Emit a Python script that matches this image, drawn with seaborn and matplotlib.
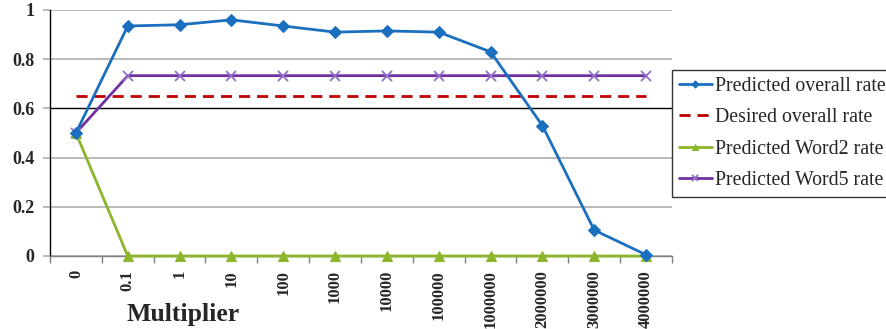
import numpy as np
import pandas as pd
import matplotlib
matplotlib.use("Agg")
import matplotlib.pyplot as plt
import seaborn as sns
from matplotlib.ticker import FixedLocator, FuncFormatter

# 데이터
multipliers = ["0", "0.1", "1", "10", "100", "1000", "10000", "100000",
               "1000000", "2000000", "3000000", "4000000"]
pred_overall = [0.50, 0.935, 0.94, 0.96, 0.935, 0.91, 0.915, 0.91, 0.83, 0.53, 0.105, 0.005]
desired_overall = [0.65] * 12
pred_word2 = [0.50, 0, 0, 0, 0, 0, 0, 0, 0, 0, 0, 0]
pred_word5 = [0.50, 0.733, 0.733, 0.733, 0.733, 0.733, 0.733, 0.733, 0.733, 0.733, 0.733, 0.733]

df = pd.DataFrame({
    "idx": np.arange(len(multipliers)),
    "Predicted overall rate": pred_overall,
    "Desired overall rate": desired_overall,
    "Predicted Word2 rate": pred_word2,
    "Predicted Word5 rate": pred_word5,
})

sns.set_style("white")
plt.rcParams["font.family"] = ["Liberation Serif", "DejaVu Serif"]

fig = plt.figure(figsize=(8.87, 3.29), dpi=100)
ax = fig.add_axes([50 / 887, 1 - 256 / 329, 622 / 887, 246 / 329])

# 가로 격자선 (0.6만 검은색)
ax.set_ylim(0, 1)
ax.set_yticks([0, 0.2, 0.4, 0.6, 0.8, 1.0])
ax.yaxis.grid(True, color="#b4b4b4", linewidth=1.3)
ax.set_axisbelow(True)
for val, gl, tk in zip(ax.get_yticks(), ax.get_ygridlines(), ax.yaxis.get_major_ticks()):
    if abs(val - 0.6) < 1e-9:
        gl.set_color("black")
        gl.set_linewidth(1.0)
        tk.tick1line.set_color("black")

sns.lineplot(data=df, x="idx", y="Predicted overall rate", ax=ax, color="#1b6fbf",
             linewidth=2.0, marker="D", markersize=6, markeredgecolor="#1b6fbf",
             label="Predicted overall rate", clip_on=False, zorder=5)
sns.lineplot(data=df, x="idx", y="Desired overall rate", ax=ax, color="#c00000",
             linewidth=2.0, linestyle=(0, (4, 2.5)), label="Desired overall rate")
sns.lineplot(data=df, x="idx", y="Predicted Word2 rate", ax=ax, color="#8cb52b",
             linewidth=2.0, marker="^", markersize=7, markeredgecolor="#8cb52b",
             label="Predicted Word2 rate", clip_on=False, zorder=4)
sns.lineplot(data=df, x="idx", y="Predicted Word5 rate", ax=ax, color="#7030a0",
             linewidth=2.0, marker="x", markersize=7, markeredgecolor="#9070c8",
             markeredgewidth=1.3, label="Predicted Word5 rate")

ax.set_xlim(-0.5, len(multipliers) - 0.5)
ax.set_xticks(df["idx"])
ax.set_xticklabels(multipliers, rotation=90, fontsize=12, fontweight="bold")
ax.xaxis.set_minor_locator(FixedLocator(np.arange(-0.5, len(multipliers), 1.0)))
ax.tick_params(axis="x", which="major", length=0, pad=10)
ax.tick_params(axis="x", which="minor", length=5, color="#808080", width=1, bottom=True)
ax.yaxis.set_major_formatter(FuncFormatter(lambda v, p: f"{v:g}"))
ax.tick_params(axis="y", length=5, color="#b4b4b4", width=1.3, pad=6, labelsize=13, left=True)
for t in ax.get_yticklabels():
    t.set_fontweight("bold")
ax.set_xlabel("")
ax.set_ylabel("")

for s in ["top", "right"]:
    ax.spines[s].set_visible(False)
ax.spines["left"].set_color("black")
ax.spines["left"].set_linewidth(1.0)
ax.spines["bottom"].set_color("#808080")
ax.spines["bottom"].set_linewidth(1.0)

ax.legend(loc="upper left", bbox_to_anchor=(672 / 887, 1 - 70 / 329),
          bbox_transform=fig.transFigure, frameon=True, fancybox=False,
          edgecolor="black", fontsize=14.3, handlelength=1.65, handletextpad=0.15,
          borderpad=0.35, labelspacing=0.62, borderaxespad=0, markerscale=0.6)
ax.get_legend().get_frame().set_linewidth(1.0)

fig.text(183 / 887, 1 - 314 / 329, "Multiplier", ha="center", va="center",
         fontsize=18.5, fontweight="bold")

fig.savefig("out.png", dpi=100)
